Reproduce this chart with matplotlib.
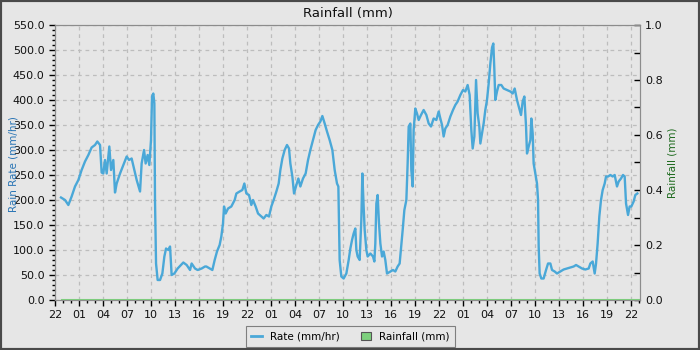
import matplotlib
matplotlib.use("Agg")
import matplotlib.pyplot as plt
from matplotlib.patches import Patch
from matplotlib.lines import Line2D
from matplotlib.ticker import MultipleLocator, FixedLocator, FormatStrFormatter

# ---- data: (hours since 22:00 on the first day, rain rate mm/hr) ----
rate_day1 = [
    (0.75, 205), (1.25, 200), (1.67, 190), (2.08, 207), (2.5, 227), (2.92, 240),
    (3.33, 260), (3.75, 277), (4.17, 290), (4.58, 305), (5.0, 310), (5.29, 317),
    (5.63, 310), (5.83, 255), (6.04, 253), (6.25, 280), (6.46, 253), (6.79, 307),
    (7.0, 260), (7.29, 280), (7.5, 215), (7.71, 233), (8.13, 253), (8.54, 270),
    (8.96, 287), (9.25, 280), (9.58, 283), (9.92, 260), (10.21, 240), (10.63, 217),
    (10.83, 273), (11.13, 300), (11.33, 273), (11.58, 290), (11.79, 270), (12.0, 320),
    (12.13, 407), (12.29, 413), (12.42, 393), (12.5, 200), (12.63, 73), (12.83, 40),
    (13.13, 40), (13.42, 53), (13.67, 87), (13.88, 103), (14.17, 100), (14.38, 107),
    (14.58, 50), (14.92, 53), (15.33, 63), (15.75, 70), (16.04, 75), (16.46, 70),
    (16.88, 60), (17.08, 73), (17.5, 63), (17.83, 60), (18.33, 63), (18.75, 67),
]
rate_day2 = [
    (18.92, 67), (19.67, 60), (19.96, 80), (20.25, 97), (20.58, 110), (20.79, 127),
    (21.0, 153), (21.13, 187), (21.33, 173), (21.63, 183), (22.04, 187), (22.46, 200),
    (22.67, 213), (23.08, 217), (23.42, 220), (23.67, 233), (23.92, 213), (24.25, 210),
    (24.54, 190), (24.75, 200), (25.08, 187), (25.38, 173), (25.79, 167), (26.08, 163),
    (26.42, 170), (26.75, 167), (27.04, 187), (27.33, 200), (27.67, 217), (27.96, 233),
    (28.17, 260), (28.42, 283), (28.71, 300), (29.0, 310), (29.25, 303), (29.42, 273),
    (29.67, 247), (29.88, 213), (30.17, 230), (30.42, 243), (30.67, 227), (31.0, 243),
    (31.33, 253), (31.63, 280), (31.92, 300), (32.25, 320), (32.58, 340), (32.88, 350),
    (33.17, 357), (33.42, 368), (33.71, 353), (34.0, 337), (34.33, 320), (34.67, 300),
    (34.96, 260), (35.25, 233), (35.42, 227), (35.58, 80), (35.79, 47), (36.08, 43),
    (36.42, 53),
]
rate_day3 = [
    (36.71, 80), (36.92, 103), (37.13, 120), (37.33, 133), (37.54, 143), (37.67, 100),
    (37.83, 87), (38.08, 80), (38.17, 113), (38.29, 160), (38.42, 253), (38.58, 187),
    (38.71, 140), (38.92, 100), (39.08, 87), (39.42, 93), (39.75, 87), (39.92, 77),
    (40.04, 113), (40.17, 193), (40.33, 210), (40.5, 153), (40.67, 113), (40.88, 87),
    (41.08, 97), (41.29, 80), (41.5, 53), (41.92, 57), (42.25, 60), (42.54, 57),
    (42.83, 67), (43.08, 73), (43.25, 103), (43.46, 140), (43.67, 180), (43.92, 200),
    (44.08, 273), (44.21, 347), (44.42, 353), (44.54, 260), (44.71, 227), (44.83, 340),
    (45.04, 383), (45.25, 373), (45.46, 360), (45.75, 370), (46.08, 380), (46.42, 370),
    (46.71, 353), (47.0, 347), (47.33, 363), (47.67, 360), (47.96, 377), (48.17, 363),
    (48.38, 350), (48.58, 327), (48.79, 343), (49.08, 350), (49.42, 367), (49.75, 380),
    (50.04, 390), (50.33, 397), (50.67, 410), (51.0, 420), (51.29, 417), (51.58, 430),
    (51.83, 410), (52.04, 340), (52.21, 303), (52.42, 327), (52.63, 440), (52.83, 373),
    (53.04, 347), (53.17, 313), (53.38, 333), (53.58, 353), (53.79, 380), (54.0, 400),
    (54.21, 433), (54.42, 473), (54.63, 505),
]
rate_day4 = [
    (54.79, 513), (54.92, 460), (55.04, 400), (55.25, 417), (55.46, 430), (55.79, 430),
    (56.08, 423), (56.5, 420), (56.92, 417), (57.21, 413), (57.46, 423), (57.75, 400),
    (58.04, 383), (58.25, 370), (58.46, 397), (58.67, 407), (58.88, 347), (59.0, 293),
    (59.21, 307), (59.42, 320), (59.54, 363), (59.71, 333), (59.83, 273), (60.04, 253),
    (60.25, 233), (60.38, 200), (60.46, 107), (60.58, 53), (60.79, 43), (61.08, 43),
    (61.38, 60), (61.63, 73), (61.92, 73), (62.13, 60), (62.46, 57), (62.75, 53),
    (63.17, 57), (63.58, 61), (64.0, 63), (64.42, 65), (64.83, 67), (65.13, 70),
    (65.46, 67), (65.88, 63), (66.29, 61), (66.71, 63), (66.92, 73), (67.21, 77),
    (67.46, 53), (67.63, 73), (67.83, 113), (68.04, 167), (68.25, 200), (68.46, 220),
    (68.71, 233), (68.88, 247), (69.13, 247), (69.42, 250), (69.71, 247), (69.96, 250),
    (70.25, 227), (70.46, 237), (70.75, 243), (71.0, 250), (71.21, 247), (71.38, 193),
    (71.63, 170), (71.83, 187), (72.04, 187), (72.33, 197), (72.54, 210), (72.79, 213),
]
rain_hours = [0.9, 72.96]
rain_values = [0.0, 0.0]

tick_hours = list(range(0, 73, 3))
tick_labels = ["22", "01", "04", "07", "10", "13", "16", "19",
               "22", "01", "04", "07", "10", "13", "16", "19",
               "22", "01", "04", "07", "10", "13", "16", "19", "22"]

rate = rate_day1 + rate_day2 + rate_day3 + rate_day4
rate_hours = [p[0] for p in rate]
rate_values = [p[1] for p in rate]

BG = "#e6e6e6"
BLUE = "#4aa8d8"
GREEN = "#7dd07d"

fig = plt.figure(figsize=(7, 3.5), dpi=100, facecolor=BG)
fig.patches.append(plt.Rectangle((0, 0), 1, 1, transform=fig.transFigure,
                                 fill=False, edgecolor="#4a4a4a", linewidth=3, zorder=10))
ax = fig.add_axes([55/700, 1 - 300/350, 585/700, 275/350])
ax.set_facecolor(BG)
ax2 = ax.twinx()

ax.plot(rate_hours, rate_values, color=BLUE, linewidth=1.7, zorder=3)
ax2.plot(rain_hours, rain_values, color=GREEN, linewidth=1.5, zorder=2)

ax.set_xlim(0, 73.125)
ax.set_ylim(0, 550)
ax2.set_ylim(0, 1.0)

ax.xaxis.set_major_locator(FixedLocator(tick_hours))
ax.set_xticklabels(tick_labels)
ax.xaxis.set_minor_locator(MultipleLocator(1))
ax.yaxis.set_major_locator(MultipleLocator(50))
ax.yaxis.set_minor_locator(MultipleLocator(10))
ax.yaxis.set_major_formatter(FormatStrFormatter("%.1f"))
ax2.yaxis.set_major_locator(MultipleLocator(0.2))
ax2.yaxis.set_minor_locator(MultipleLocator(0.1))
ax2.yaxis.set_major_formatter(FormatStrFormatter("%.1f"))

ax.tick_params(axis="both", which="major", direction="out", length=4, width=1,
               labelsize=8, color="black", labelcolor="#111111")
ax.tick_params(axis="both", which="minor", direction="out", length=2.5, width=1, color="black")
ax2.tick_params(axis="y", which="both", direction="in", length=4, width=1,
                labelsize=8, color="black", labelcolor="#111111")

ax.grid(True, which="major", color="#bdbdbd", linestyle=(0, (3, 3)), linewidth=0.9)
for sp in list(ax.spines.values()) + list(ax2.spines.values()):
    sp.set_color("#8c8c8c")

ax.set_ylabel("Rain Rate (mm/hr)", color="#2a75b5", fontsize=7.5)
ax.yaxis.set_label_coords((19 - 55) / 585, (300 - 164) / 275)
ax2.set_ylabel("Rainfall (mm)", color="#1f6b1f", fontsize=7.5)
ax2.yaxis.set_label_coords((667 - 55) / 585, (300 - 163) / 275)
ax.set_title("Rainfall (mm)", fontsize=9.5, color="#111111", pad=6)

handles = [Line2D([0], [0], color=BLUE, linewidth=2),
           Patch(facecolor=GREEN, edgecolor="#555555", linewidth=0.8)]
leg = fig.legend(handles, ["Rate (mm/hr)", "Rainfall (mm)"], loc="center",
                 bbox_to_anchor=(350.5/700, 1 - 336.5/350), ncol=2, fontsize=7.5,
                 frameon=True, fancybox=False, handlelength=1.0, handleheight=0.8,
                 columnspacing=2.0, borderpad=0.5)
leg.get_frame().set_facecolor(BG)
leg.get_frame().set_edgecolor("#666666")
leg.get_frame().set_linewidth(0.8)

fig.savefig("out.png", dpi=100, facecolor=BG)
